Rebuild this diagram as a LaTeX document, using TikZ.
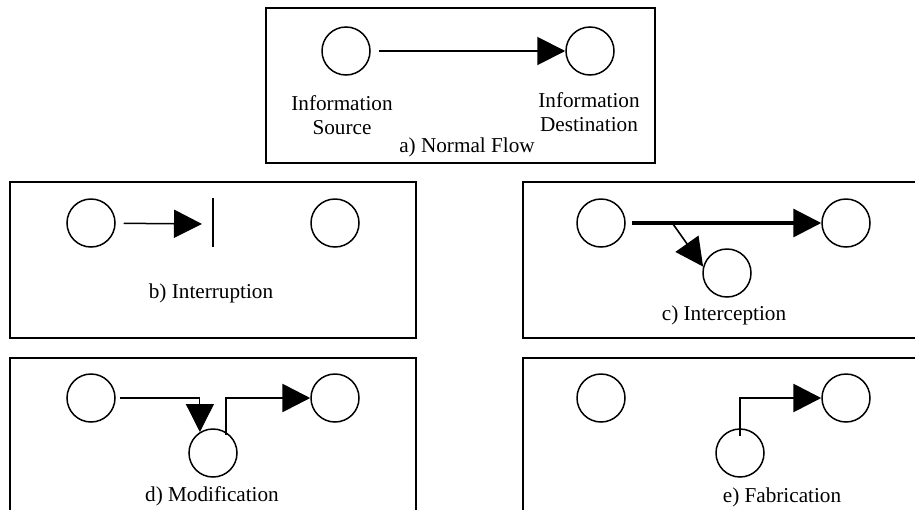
\documentclass[tikz,border=0pt]{standalone}
\usepackage{fontspec}
\setmainfont{Liberation Serif}
\usetikzlibrary{arrows.meta}

\tikzset{
  party/.style={draw, circle, line width=0.75pt, minimum size=24pt, inner sep=0pt},
  panel/.style={draw, line width=1pt},
  flow/.style={-{Triangle[length=14pt,width=14pt]}, line width=0.9pt},
  heavy/.style={flow, line width=1.4pt},
  caption/.style={font=\fontsize{10.6}{12}\selectfont, align=center, inner sep=0pt}
}

\begin{document}
\begin{tikzpicture}[x=0.5pt, y=-0.5pt]
  \useasboundingbox (0,0) rectangle (915,509);
  \clip (0,0) rectangle (915,509);

  % Normal flow
  \draw[panel] (266,8) rectangle (655,163);
  \node[party] (srcA) at (346,51) {};
  \node[party] (dstA) at (590,51) {};
  \draw[flow, line width=1pt, shorten <=4pt] (srcA) -- (dstA);
  \node[caption] (srcAtxt) at (342,115) {Information\\Source};
  \node[caption] (dstAtxt) at (589,112) {Information\\Destination};
  \node[caption] (capA) at (467,147) {a) Normal Flow};

  % Interruption
  \draw[panel] (10,182) rectangle (416,338);
  \node[party] (srcB) at (91,223) {};
  \node[party] (dstB) at (335,223) {};
  \coordinate (stopB) at (202,224);
  \draw[flow, line width=0.75pt, shorten <=4pt] (srcB) -- (stopB);
  \draw[line width=0.9pt] (213,198) -- (213,247);
  \node[caption] (capB) at (211,293) {b) Interruption};

  % Interception
  \draw[panel] (523,182) rectangle (929,338);
  \node[party] (srcC) at (601,223) {};
  \node[party] (dstC) at (846,223) {};
  \node[party] (midC) at (727,273) {};
  \coordinate (tapC) at (673,224);
  \draw[heavy, line width=1.6pt, shorten <=3pt] (srcC) -- (dstC);
  \draw[flow, line width=0.8pt] (tapC) -- (midC.165);
  \node[caption] (capC) at (724,315) {c) Interception};

  % Modification
  \draw[panel] (10,358) rectangle (416,530);
  \node[party] (srcD) at (91,398) {};
  \node[party] (dstD) at (335,398) {};
  \node[party] (midD) at (213,453) {};
  \draw[flow, line width=0.6pt, shorten <=2pt] (srcD) -| (midD.122);
  \draw[heavy] ([shift={(13,-18)}]midD.center) |- (dstD);
  \node[caption] (capD) at (212,496) {d) Modification};

  % Fabrication
  \draw[panel] (523,358) rectangle (929,530);
  \node[party] (srcE) at (601,398) {};
  \node[party] (dstE) at (846,398) {};
  \node[party] (midE) at (740,453) {};
  \draw[heavy] ([shift={(0,-17)}]midE.center) |- (dstE);
  \node[caption] (capE) at (782,497) {e) Fabrication};
\end{tikzpicture}
\end{document}
